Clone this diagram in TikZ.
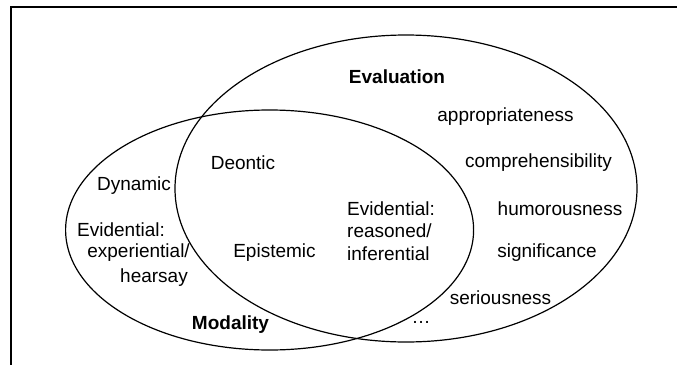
\documentclass[tikz,border=0pt]{standalone}
\usepackage{fontspec}
\setmainfont{Liberation Sans}
\usetikzlibrary{shapes.geometric}
\begin{document}
\begin{tikzpicture}[x=1pt,y=-1pt,
  txt/.style={inner sep=0pt,font=\fontsize{19}{22.5}\selectfont},
  head/.style={inner sep=0pt,font=\fontsize{19}{22.5}\selectfont\bfseries},
  ring/.style={draw,line width=1.2pt}]
\useasboundingbox (0,0) rectangle (677,364);
\coordinate (b1) at (11,380);
\coordinate (b2) at (11,7);
\coordinate (b3) at (700,7);
\draw[line width=1.3pt] (b1) -- (b2) -- (b3);
\node[ring,ellipse,minimum width=462pt,minimum height=307pt,inner sep=0pt] (eval) at (406,188.5) {};
\node[ring,ellipse,minimum width=408pt,minimum height=240pt,inner sep=0pt] (moda) at (269.6,230) {};
\node[head] (tEval) at (397,77) {Evaluation};
\node[head] (tModa) at (230.5,325) {Modality};
\node[txt] (deon) at (243,163) {Deontic};
\node[txt] (dyn) at (134,186) {Dynamic};
\node[txt,anchor=west] (ev1) at (77,230) {Evidential:};
\node[txt,anchor=east] (ev2) at (190,253) {experiential/};
\node[txt,anchor=east] (ev3) at (188,278) {hearsay};
\node[txt] (epi) at (274.5,253) {Epistemic};
\node[txt,anchor=west,align=left] (evr) at (347,231) {Evidential:\\reasoned/\\inferential};
\node[txt] (appr) at (505.5,117) {appropriateness};
\node[txt] (comp) at (538.5,163) {comprehensibility};
\node[txt] (humo) at (560,209) {humorousness};
\node[txt] (sign) at (547,253) {significance};
\node[txt] (seri) at (500.5,298) {seriousness};
\node[txt] (dots) at (421,322) {…};
\end{tikzpicture}
\end{document}
